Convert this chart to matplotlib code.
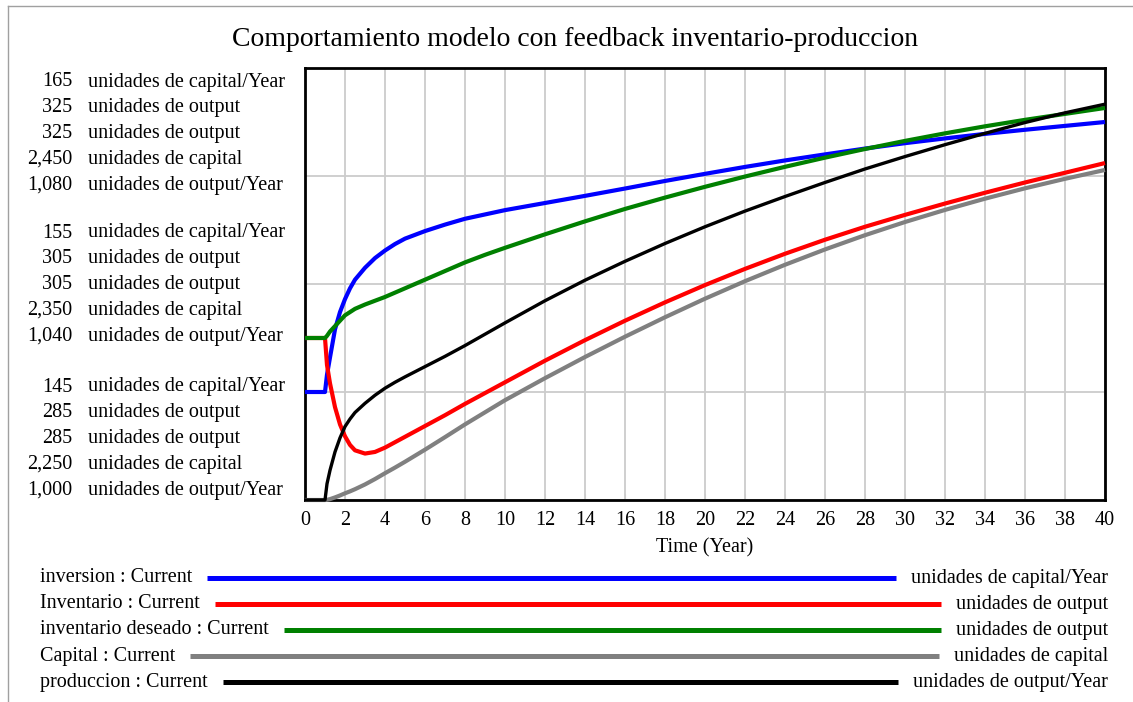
import matplotlib
matplotlib.use('Agg')
import matplotlib.pyplot as plt
from matplotlib.lines import Line2D

plt.rcParams['font.family'] = ['Liberation Serif', 'DejaVu Serif']

# simulation output, years
time = [0, 1, 1.1, 1.25, 1.5, 1.75, 2, 2.25, 2.5, 3, 3.5, 4, 4.5, 5, 6, 7, 8, 9, 10,
        12, 14, 16, 18, 20, 22, 24, 26, 28, 30, 32, 34, 36, 38, 40]
inversion = [150, 150, 150.8, 151.6, 152.9, 153.7, 154.3, 154.8, 155.2, 155.75, 156.2,
             156.55, 156.85, 157.1, 157.45, 157.75, 158.02, 158.22, 158.42,
             158.75, 159.08, 159.42, 159.77, 160.1, 160.42, 160.72, 161.0,
             161.27, 161.52, 161.74, 161.95, 162.14, 162.32, 162.5]
inventario = [300, 300, 297.5, 295.8, 293.6, 292.0, 290.9, 290.1, 289.6, 289.3, 289.45,
              289.85, 290.35, 290.85, 291.85, 292.85, 293.9, 294.9, 295.9,
              297.9, 299.8, 301.6, 303.3, 304.9, 306.4, 307.8, 309.1,
              310.3, 311.4, 312.45, 313.45, 314.4, 315.3, 316.2]
inventario_deseado = [300, 300, 300.2, 300.6, 301.1, 301.6, 302.1, 302.4, 302.7, 303.1,
                      303.45, 303.8, 304.2, 304.6, 305.4, 306.2, 307.0, 307.7, 308.35,
                      309.6, 310.8, 311.95, 313.0, 314.0, 314.95, 315.85, 316.7,
                      317.5, 318.25, 318.95, 319.6, 320.2, 320.75, 321.3]
capital = [2250, 2250, 2250.1, 2250.4, 2251.2, 2252.1, 2253.1, 2254.0, 2255.0, 2257.2,
           2259.7, 2262.4, 2265.0, 2267.7, 2273.3, 2279.1, 2285, 2290.6, 2296.2,
           2306.4, 2316.2, 2325.6, 2334.6, 2343.2, 2351.3, 2358.9, 2366.0,
           2372.6, 2378.7, 2384.3, 2389.5, 2394.3, 2398.7, 2402.8]
produccion = [1000, 1000, 1003.0, 1005.5, 1008.9, 1011.5, 1013.6, 1015.0, 1016.2, 1017.9,
              1019.4, 1020.7, 1021.8, 1022.8, 1024.7, 1026.6, 1028.6, 1030.7, 1032.8,
              1036.9, 1040.7, 1044.2, 1047.5, 1050.6, 1053.5, 1056.2, 1058.8,
              1061.3, 1063.6, 1065.8, 1067.9, 1069.9, 1071.7, 1073.3]

names = ['inversion', 'Inventario', 'inventario deseado', 'Capital', 'produccion']
units = ['unidades de capital/Year', 'unidades de output', 'unidades de output',
         'unidades de capital', 'unidades de output/Year']
scale_lo = [145, 285, 285, 2250, 1000]
scale_hi = [165, 325, 325, 2450, 1080]
colors = ['#0000ff', '#ff0000', '#008000', '#808080', '#000000']
series = [inversion, inventario, inventario_deseado, capital, produccion]

W, H = 1133, 702
fs = 14.5


def fx(px):
    return px / W


def fy(py):
    return 1 - py / H


fig = plt.figure(figsize=(W / 100, H / 100), dpi=100)

# thin frame on the left and top
fig.add_artist(Line2D([fx(8), 1], [fy(6), fy(6)], color='#a0a0a0', lw=1))
fig.add_artist(Line2D([fx(8), fx(8)], [fy(6), 0], color='#a0a0a0', lw=1))

fig.text(fx(575), fy(39), 'Comportamiento modelo con feedback inventario-produccion',
         ha='center', va='center', fontsize=20)

ax = fig.add_axes([fx(305), fy(500), 800 / W, 432 / H])
ax.set_xlim(0, 40)
ax.set_ylim(scale_lo[0], scale_hi[0])

# one y scale per variable, stacked on the same plot area
order = [3, 4, 2, 1, 0]
axes = []
for i in range(5):
    if i == 0:
        a = ax
    else:
        a = ax.twinx()
        a.set_ylim(scale_lo[i], scale_hi[i])
        a.axis('off')
    axes.append(a)
for i in order:
    lw = 2.4 if i == 4 else 3
    axes[i].plot(time, series[i], color=colors[i], lw=lw, clip_on=False,
                 solid_capstyle='butt', zorder=3 + order.index(i))

ax.set_xticks(range(0, 41, 2))
step = (scale_hi[0] - scale_lo[0]) / 4
ax.set_yticks([scale_lo[0] + step * i for i in range(5)])
ax.grid(color='#cccccc', lw=1.3)
ax.tick_params(axis='y', left=False, right=False, labelleft=False, labelright=False)
ax.tick_params(axis='x', direction='in', length=4, color='#cccccc', labelsize=fs, pad=8)
for s in ax.spines.values():
    s.set_linewidth(2)
ax.set_xlabel('Time (Year)', fontsize=fs, labelpad=6)

# scale labels to the left: top, middle and bottom of each axis
group_top = [82, 233, 387]
row_step = 25.8
for g, frac in enumerate([1.0, 0.5, 0.0]):
    for i in range(5):
        v = scale_lo[i] + (scale_hi[i] - scale_lo[i]) * frac
        y = fy(group_top[g] + row_step * i)
        fig.text(fx(72), y, '{:,.0f}'.format(v), ha='right', va='center', fontsize=fs)
        fig.text(fx(88), y, units[i], ha='left', va='center', fontsize=fs)

# legend rows below the plot
renderer = fig.canvas.get_renderer()
for i in range(5):
    y = fy(578 + 26 * i)
    lt = fig.text(fx(40), y, names[i] + ' : Current', ha='left', va='center', fontsize=fs)
    rt = fig.text(fx(1108), y, units[i], ha='right', va='center', fontsize=fs)
    x0 = lt.get_window_extent(renderer).x1 + 15
    x1 = rt.get_window_extent(renderer).x0 - 15
    fig.add_artist(Line2D([x0 / W, x1 / W], [y, y], color=colors[i], lw=3.6,
                          solid_capstyle='butt'))

fig.savefig('out.png', dpi=100)
